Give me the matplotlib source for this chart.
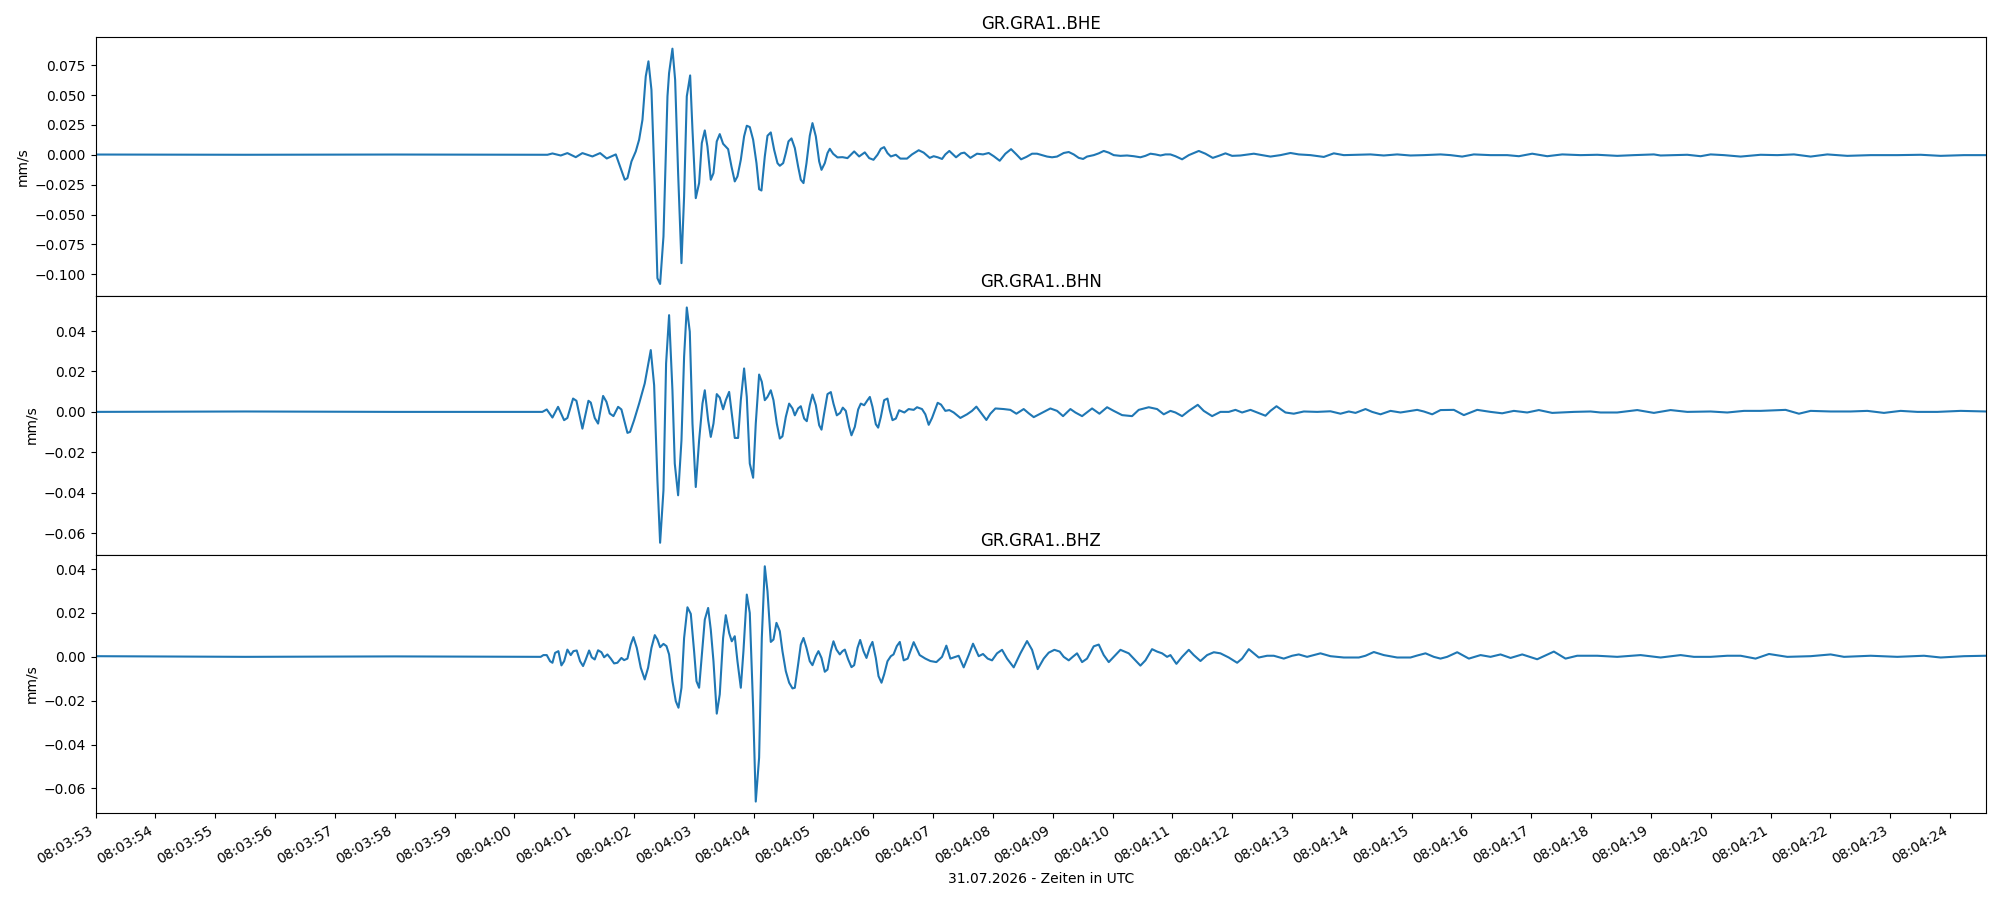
import numpy as np
import matplotlib
matplotlib.use("Agg")
import matplotlib.pyplot as plt
import matplotlib.dates as mdates

# Startzeit der Aufzeichnung, Zeiten unten in Sekunden ab Start
start = np.datetime64("2026-07-31T08:03:53.000")

channels = ["GR.GRA1..BHE", "GR.GRA1..BHN", "GR.GRA1..BHZ"]

# BHE (Ost) - Zeit [s], Geschwindigkeit [mm/s]
bhe_t = [0.0, 2.5, 5.0, 7.107, 7.553, 7.637, 7.776, 7.887, 8.027, 8.138, 8.305, 8.434, 8.545, 8.696,
         8.846, 8.891, 8.958, 9.030, 9.086, 9.142, 9.197, 9.242, 9.292, 9.348, 9.392, 9.437, 9.493,
         9.560, 9.587, 9.643, 9.688, 9.738, 9.794, 9.838, 9.883, 9.939, 9.978, 10.033, 10.089,
         10.134, 10.184, 10.228, 10.284, 10.329, 10.384, 10.434, 10.490, 10.574, 10.630, 10.685,
         10.730, 10.786, 10.841, 10.886, 10.936, 10.992, 11.048, 11.092, 11.131, 11.187, 11.232,
         11.287, 11.343, 11.399, 11.438, 11.494, 11.538, 11.583, 11.633, 11.689, 11.744, 11.789,
         11.834, 11.884, 11.939, 11.984, 12.040, 12.096, 12.135, 12.190, 12.235, 12.274, 12.330,
         12.402, 12.486, 12.569, 12.625, 12.681, 12.764, 12.859, 12.932, 13.004, 13.071, 13.127,
         13.182, 13.238, 13.294, 13.378, 13.453, 13.564, 13.648, 13.760, 13.843, 13.944, 14.010,
         14.077, 14.150, 14.205, 14.272, 14.345, 14.384, 14.467, 14.523, 14.624, 14.735, 14.835,
         14.930, 15.014, 15.114, 15.209, 15.304, 15.393, 15.471, 15.560, 15.655, 15.738, 15.822,
         15.906, 15.989, 16.073, 16.184, 16.268, 16.351, 16.435, 16.508, 16.574, 16.686, 16.770,
         16.853, 16.937, 17.020, 17.132, 17.243, 17.355, 17.466, 17.550, 17.634, 17.717, 17.801,
         17.884, 17.968, 18.052, 18.163, 18.275, 18.442, 18.553, 18.676, 18.776, 18.888, 18.999,
         19.139, 19.362, 19.501, 19.640, 19.807, 19.975, 20.114, 20.309, 20.532, 20.699, 20.866,
         21.089, 21.312, 21.535, 21.758, 21.981, 22.204, 22.483, 22.650, 22.845, 23.040, 23.319,
         23.598, 23.793, 24.016, 24.267, 24.518, 24.824, 25.103, 25.437, 25.716, 26.050, 26.162,
         26.385, 26.608, 26.831, 26.998, 27.221, 27.500, 27.834, 28.113, 28.392, 28.670, 28.949,
         29.283, 29.674, 30.119, 30.510, 30.844, 31.234, 31.602]
bhe_v = [0.0002, 0.0, 0.0002, 0.0, 0.0, 0.0011, -0.0006, 0.0014, -0.0020, 0.0014, -0.0014, 0.0014,
         -0.0031, 0.0003, -0.0209, -0.0195, -0.0056, 0.0028, 0.0126, 0.0293, 0.0656, 0.0782,
         0.0544, -0.0265, -0.1033, -0.1081, -0.0684, 0.0489, 0.0684, 0.0888, 0.0628, -0.0154,
         -0.0907, -0.0349, 0.0489, 0.0664, 0.0209, -0.0363, -0.0237, 0.0098, 0.0204, 0.0070,
         -0.0209, -0.0154, 0.0112, 0.0173, 0.0092, 0.0047, -0.0098, -0.0223, -0.0181, -0.0042,
         0.0154, 0.0243, 0.0232, 0.0126, -0.0070, -0.0288, -0.0299, -0.0014, 0.0159, 0.0187,
         0.0042, -0.0070, -0.0092, -0.0070, 0.0014, 0.0112, 0.0137, 0.0056, -0.0098, -0.0209,
         -0.0237, -0.0070, 0.0159, 0.0265, 0.0154, -0.0056, -0.0126, -0.0070, 0.0014, 0.0050,
         0.0008, -0.0022, -0.0020, -0.0028, 0.0, 0.0028, -0.0014, 0.0020, -0.0028, -0.0042, 0.0,
         0.0050, 0.0064, 0.0014, -0.0014, 0.0, -0.0032, -0.0032, 0.0003, 0.0038, 0.0018, -0.0026,
         -0.0012, -0.0021, -0.0035, 0.0003, 0.0032, -0.0003, -0.0021, 0.0012, 0.0018, -0.0026,
         0.0009, 0.0003, 0.0015, -0.0012, -0.0050, 0.0009, 0.0047, 0.0003, -0.0038, -0.0018,
         0.0009, 0.0009, -0.0003, -0.0015, -0.0021, -0.0015, 0.0015, 0.0023, 0.0003, -0.0026,
         -0.0035, -0.0015, -0.0003, 0.0012, 0.0032, 0.0018, -0.0003, -0.0009, -0.0006, -0.0012,
         -0.0021, -0.0009, 0.0009, 0.0003, -0.0006, 0.0003, 0.0003, -0.0012, -0.0038, -0.0003,
         0.0032, 0.0009, -0.0026, -0.0009, 0.0012, -0.0009, -0.0006, 0.0009, -0.0003, -0.0015,
         -0.0003, 0.0015, 0.0003, -0.0003, -0.0018, 0.0012, -0.0003, 0.0, 0.0003, -0.0006, 0.0003,
         -0.0006, -0.0003, 0.0003, -0.0003, -0.0015, 0.0003, -0.0003, -0.0003, -0.0012, 0.0009,
         -0.0012, 0.0003, -0.0003, 0.0, -0.0009, -0.0003, 0.0003, -0.0006, -0.0003, 0.0, -0.0012,
         0.0003, -0.0003, -0.0015, 0.0, -0.0003, 0.0003, -0.0015, 0.0003, -0.0009, -0.0003,
         -0.0003, 0.0, -0.0009, -0.0003, -0.0003]

# BHN (Nord)
bhn_t = [0.0, 2.5, 5.0, 7.107, 7.469, 7.542, 7.637, 7.731, 7.832, 7.887, 7.982, 8.038, 8.138, 8.239,
         8.278, 8.344, 8.400, 8.484, 8.540, 8.595, 8.657, 8.735, 8.790, 8.891, 8.935, 9.002, 9.086,
         9.180, 9.281, 9.337, 9.392, 9.437, 9.493, 9.537, 9.587, 9.643, 9.682, 9.738, 9.794, 9.838,
         9.883, 9.933, 9.978, 10.033, 10.089, 10.145, 10.184, 10.240, 10.284, 10.329, 10.384,
         10.434, 10.490, 10.535, 10.591, 10.635, 10.685, 10.741, 10.786, 10.841, 10.886, 10.936,
         10.992, 11.036, 11.092, 11.137, 11.187, 11.232, 11.287, 11.332, 11.388, 11.438, 11.482,
         11.538, 11.594, 11.650, 11.689, 11.744, 11.789, 11.845, 11.889, 11.939, 11.984, 12.040,
         12.096, 12.135, 12.179, 12.235, 12.291, 12.335, 12.391, 12.447, 12.491, 12.541, 12.597,
         12.636, 12.692, 12.748, 12.792, 12.848, 12.904, 12.943, 12.987, 13.043, 13.082, 13.127,
         13.182, 13.238, 13.277, 13.322, 13.378, 13.433, 13.520, 13.592, 13.676, 13.732, 13.815,
         13.871, 13.927, 13.983, 14.077, 14.133, 14.205, 14.272, 14.345, 14.456, 14.568, 14.651,
         14.724, 14.819, 14.891, 14.958, 15.042, 15.181, 15.292, 15.393, 15.515, 15.599, 15.683,
         15.794, 15.961, 16.073, 16.173, 16.296, 16.379, 16.491, 16.658, 16.781, 16.909, 17.020,
         17.160, 17.327, 17.438, 17.606, 17.745, 17.856, 17.968, 18.052, 18.163, 18.275, 18.425,
         18.525, 18.665, 18.804, 18.943, 19.055, 19.166, 19.306, 19.417, 19.557, 19.640, 19.741,
         19.891, 20.030, 20.198, 20.421, 20.643, 20.811, 20.950, 21.062, 21.229, 21.340, 21.480,
         21.647, 21.814, 22.093, 22.204, 22.344, 22.483, 22.706, 22.873, 23.096, 23.319, 23.514,
         23.709, 23.932, 24.127, 24.350, 24.713, 24.991, 25.159, 25.437, 25.772, 26.050, 26.329,
         26.608, 26.998, 27.277, 27.555, 27.834, 28.252, 28.475, 28.670, 29.005, 29.339, 29.618,
         29.896, 30.175, 30.454, 30.788, 31.179, 31.602]
bhn_v = [0.0, 0.0002, 0.0, 0.0, 0.0, 0.0012, -0.0028, 0.0025, -0.0041, -0.0030, 0.0066, 0.0055,
         -0.0083, 0.0055, 0.0046, -0.0030, -0.0058, 0.0079, 0.0050, -0.0008, -0.0021, 0.0025,
         0.0012, -0.0104, -0.0099, -0.0041, 0.0041, 0.0141, 0.0306, 0.0132, -0.0339, -0.0648,
         -0.0388, 0.0240, 0.0479, 0.0107, -0.0256, -0.0413, -0.0141, 0.0273, 0.0517, 0.0397,
         -0.0058, -0.0372, -0.0141, 0.0041, 0.0107, -0.0041, -0.0124, -0.0058, 0.0088, 0.0071,
         0.0013, 0.0058, 0.0099, -0.0008, -0.0129, -0.0129, 0.0058, 0.0215, 0.0074, -0.0256,
         -0.0326, -0.0058, 0.0185, 0.0149, 0.0058, 0.0074, 0.0107, 0.0058, -0.0058, -0.0132,
         -0.0121, -0.0025, 0.0041, 0.0017, -0.0017, 0.0017, 0.0028, -0.0033, -0.0046, 0.0033,
         0.0086, 0.0033, -0.0066, -0.0088, -0.0008, 0.0088, 0.0098, 0.0041, -0.0017, -0.0005,
         0.0021, 0.0005, -0.0074, -0.0116, -0.0074, 0.0012, 0.0041, 0.0033, 0.0058, 0.0074,
         0.0025, -0.0061, -0.0078, -0.0025, 0.0058, 0.0066, 0.0008, -0.0041, -0.0033, 0.0008,
         -0.0003, 0.0014, 0.0010, 0.0023, 0.0014, -0.0012, -0.0064, -0.0030, 0.0045, 0.0036,
         0.0005, 0.0009, -0.0003, -0.0030, -0.0012, 0.0005, 0.0026, -0.0012, -0.0040, -0.0009,
         0.0017, 0.0014, 0.0010, -0.0009, 0.0014, -0.0007, -0.0026, -0.0009, 0.0017, 0.0005,
         -0.0021, 0.0014, -0.0003, -0.0021, 0.0017, -0.0009, 0.0023, 0.0005, -0.0016, -0.0021,
         0.0010, 0.0023, 0.0014, -0.0012, 0.0005, -0.0003, -0.0021, 0.0005, 0.0035, 0.0005,
         -0.0021, 0.0, 0.0, 0.0010, -0.0003, 0.0010, -0.0003, -0.0019, 0.0005, 0.0028, -0.0003,
         -0.0009, 0.0002, 0.0, 0.0003, -0.0009, 0.0002, -0.0005, 0.0014, 0.0, -0.0012, 0.0005,
         -0.0003, 0.0010, 0.0002, -0.0012, 0.0009, 0.0010, -0.0016, 0.0010, 0.0, -0.0007, 0.0005,
         -0.0003, 0.0009, -0.0005, 0.0, 0.0002, -0.0003, -0.0003, 0.0009, -0.0005, 0.0009, 0.0,
         0.0002, -0.0003, 0.0005, 0.0005, 0.0010, -0.0009, 0.0005, 0.0002, 0.0002, 0.0005,
         -0.0005, 0.0005, 0.0, 0.0, 0.0005, 0.0002]

# BHZ (vertikal)
bhz_t = [0.0, 2.5, 5.0, 7.107, 7.441, 7.486, 7.542, 7.598, 7.637, 7.681, 7.737, 7.787, 7.832, 7.887,
         7.943, 7.988, 8.043, 8.099, 8.149, 8.194, 8.250, 8.294, 8.344, 8.400, 8.456, 8.501, 8.556,
         8.612, 8.668, 8.723, 8.790, 8.835, 8.891, 8.946, 8.991, 9.047, 9.114, 9.180, 9.236, 9.292,
         9.348, 9.392, 9.437, 9.493, 9.543, 9.587, 9.643, 9.699, 9.744, 9.794, 9.838, 9.894, 9.950,
         10.005, 10.045, 10.089, 10.145, 10.184, 10.240, 10.284, 10.329, 10.384, 10.434, 10.490,
         10.535, 10.591, 10.635, 10.685, 10.730, 10.786, 10.830, 10.886, 10.936, 10.992, 11.036,
         11.092, 11.137, 11.187, 11.232, 11.287, 11.332, 11.382, 11.438, 11.482, 11.538, 11.594,
         11.650, 11.689, 11.744, 11.789, 11.834, 11.884, 11.939, 11.984, 12.040, 12.084, 12.135,
         12.190, 12.235, 12.291, 12.335, 12.385, 12.441, 12.486, 12.525, 12.581, 12.636, 12.681,
         12.737, 12.781, 12.837, 12.887, 12.943, 12.987, 13.043, 13.088, 13.138, 13.182, 13.238,
         13.294, 13.339, 13.394, 13.444, 13.509, 13.576, 13.676, 13.776, 13.871, 13.955, 14.055,
         14.150, 14.222, 14.289, 14.373, 14.428, 14.512, 14.596, 14.668, 14.763, 14.835, 14.913,
         14.986, 15.069, 15.153, 15.237, 15.348, 15.460, 15.571, 15.655, 15.749, 15.850, 15.933,
         16.028, 16.117, 16.184, 16.268, 16.335, 16.407, 16.491, 16.574, 16.686, 16.770, 16.853,
         16.937, 17.020, 17.132, 17.271, 17.355, 17.466, 17.550, 17.661, 17.745, 17.829, 17.912,
         17.968, 18.068, 18.163, 18.275, 18.358, 18.470, 18.581, 18.693, 18.804, 18.943, 19.083,
         19.166, 19.278, 19.362, 19.445, 19.584, 19.696, 19.863, 20.003, 20.114, 20.253, 20.476,
         20.643, 20.866, 21.117, 21.229, 21.368, 21.535, 21.758, 21.981, 22.093, 22.232, 22.371,
         22.483, 22.594, 22.762, 22.957, 23.152, 23.319, 23.486, 23.654, 23.849, 24.099, 24.378,
         24.573, 24.768, 25.103, 25.437, 25.827, 26.162, 26.496, 26.719, 26.998, 27.277, 27.500,
         27.750, 27.974, 28.280, 28.670, 29.005, 29.228, 29.674, 30.119, 30.565, 30.844, 31.234,
         31.602]
bhz_v = [0.0003, 0.0, 0.0002, 0.0, 0.0, 0.0008, 0.0008, -0.0020, -0.0027, 0.0018, 0.0026, -0.0039,
         -0.0020, 0.0033, 0.0008, 0.0026, 0.0029, -0.0020, -0.0042, -0.0012, 0.0029, -0.0002,
         -0.0012, 0.0030, 0.0021, -0.0002, 0.0011, -0.0008, -0.0030, -0.0027, -0.0005, -0.0015,
         -0.0008, 0.0056, 0.0090, 0.0041, -0.0050, -0.0103, -0.0050, 0.0041, 0.0099, 0.0079,
         0.0044, 0.0059, 0.0049, 0.0011, -0.0111, -0.0202, -0.0232, -0.0141, 0.0086, 0.0226,
         0.0196, 0.0026, -0.0111, -0.0141, 0.0041, 0.0170, 0.0223, 0.0124, -0.0020, -0.0259,
         -0.0171, 0.0086, 0.0190, 0.0109, 0.0071, 0.0094, -0.0020, -0.0141, 0.0026, 0.0284,
         0.0200, -0.0232, -0.0660, -0.0460, 0.0086, 0.0413, 0.0299, 0.0068, 0.0079, 0.0155,
         0.0117, 0.0026, -0.0065, -0.0118, -0.0144, -0.0141, -0.0035, 0.0056, 0.0086, 0.0041,
         -0.0020, -0.0038, 0.0003, 0.0026, -0.0005, -0.0068, -0.0058, 0.0026, 0.0071, 0.0033,
         0.0011, 0.0026, 0.0033, -0.0012, -0.0047, -0.0038, 0.0041, 0.0077, 0.0026, -0.0005,
         0.0044, 0.0068, -0.0005, -0.0088, -0.0118, -0.0080, -0.0020, 0.0003, 0.0011, 0.0049,
         0.0068, -0.0016, -0.0008, 0.0067, 0.0008, -0.0008, -0.0019, -0.0024, 0.0, 0.0051,
         -0.0008, 0.0, 0.0005, -0.0048, 0.0008, 0.0060, 0.0003, 0.0013, -0.0008, -0.0016, 0.0016,
         0.0032, -0.0008, -0.0048, 0.0016, 0.0072, 0.0032, -0.0056, -0.0008, 0.0019, 0.0032,
         0.0024, 0.0, -0.0016, 0.0, 0.0016, -0.0024, -0.0008, 0.0048, 0.0056, 0.0008, -0.0024,
         0.0, 0.0032, 0.0016, -0.0008, -0.0040, -0.0016, 0.0035, 0.0024, 0.0016, 0.0, 0.0008,
         -0.0032, 0.0, 0.0032, 0.0008, -0.0019, 0.0008, 0.0021, 0.0016, -0.0003, -0.0027, -0.0008,
         0.0035, 0.0016, -0.0003, 0.0005, 0.0005, -0.0008, 0.0005, 0.0011, 0.0, 0.0016, 0.0003,
         -0.0003, -0.0003, 0.0005, 0.0022, 0.0008, -0.0003, -0.0003, 0.0006, 0.0016, 0.0,
         -0.0008, 0.0, 0.0021, -0.0008, 0.0008, 0.0, 0.0011, -0.0005, 0.0011, -0.0011, 0.0024,
         -0.0008, 0.0005, 0.0005, 0.0, 0.0008, -0.0003, 0.0008, 0.0, 0.0, 0.0005, 0.0005, -0.0008,
         0.0013, 0.0, 0.0003, 0.0011, 0.0, 0.0005, 0.0, 0.0005, -0.0003, 0.0003, 0.0005]


def zeiten(sekunden):
    ms = np.round(np.array(sekunden) * 1000).astype("int64")
    return start + ms.astype("timedelta64[ms]")


def main():
    traces = [(bhe_t, bhe_v), (bhn_t, bhn_v), (bhz_t, bhz_v)]

    fig, axes = plt.subplots(3, 1, figsize=(20, 9), sharex=True)
    for ax, name, (t, v) in zip(axes, channels, traces):
        ax.plot(zeiten(t), v, color="#1f77b4", linewidth=1.5)
        ax.set_title(name)
        ax.set_ylabel("mm/s")

    x = zeiten(bhe_t)
    axes[-1].set_xlim(x[0], x[-1])
    axes[-1].xaxis.set_major_locator(mdates.SecondLocator(interval=1))
    axes[-1].xaxis.set_major_formatter(mdates.DateFormatter("%H:%M:%S"))
    axes[-1].set_xlabel("31.07.2026 - Zeiten in UTC")
    fig.autofmt_xdate()
    for ax in axes[:-1]:
        ax.tick_params(axis="x", bottom=False, labelbottom=False)

    fig.subplots_adjust(left=0.0478, right=0.993, top=0.959, bottom=0.0963, hspace=0)
    fig.savefig("out.png", dpi=100)


if __name__ == "__main__":
    main()
